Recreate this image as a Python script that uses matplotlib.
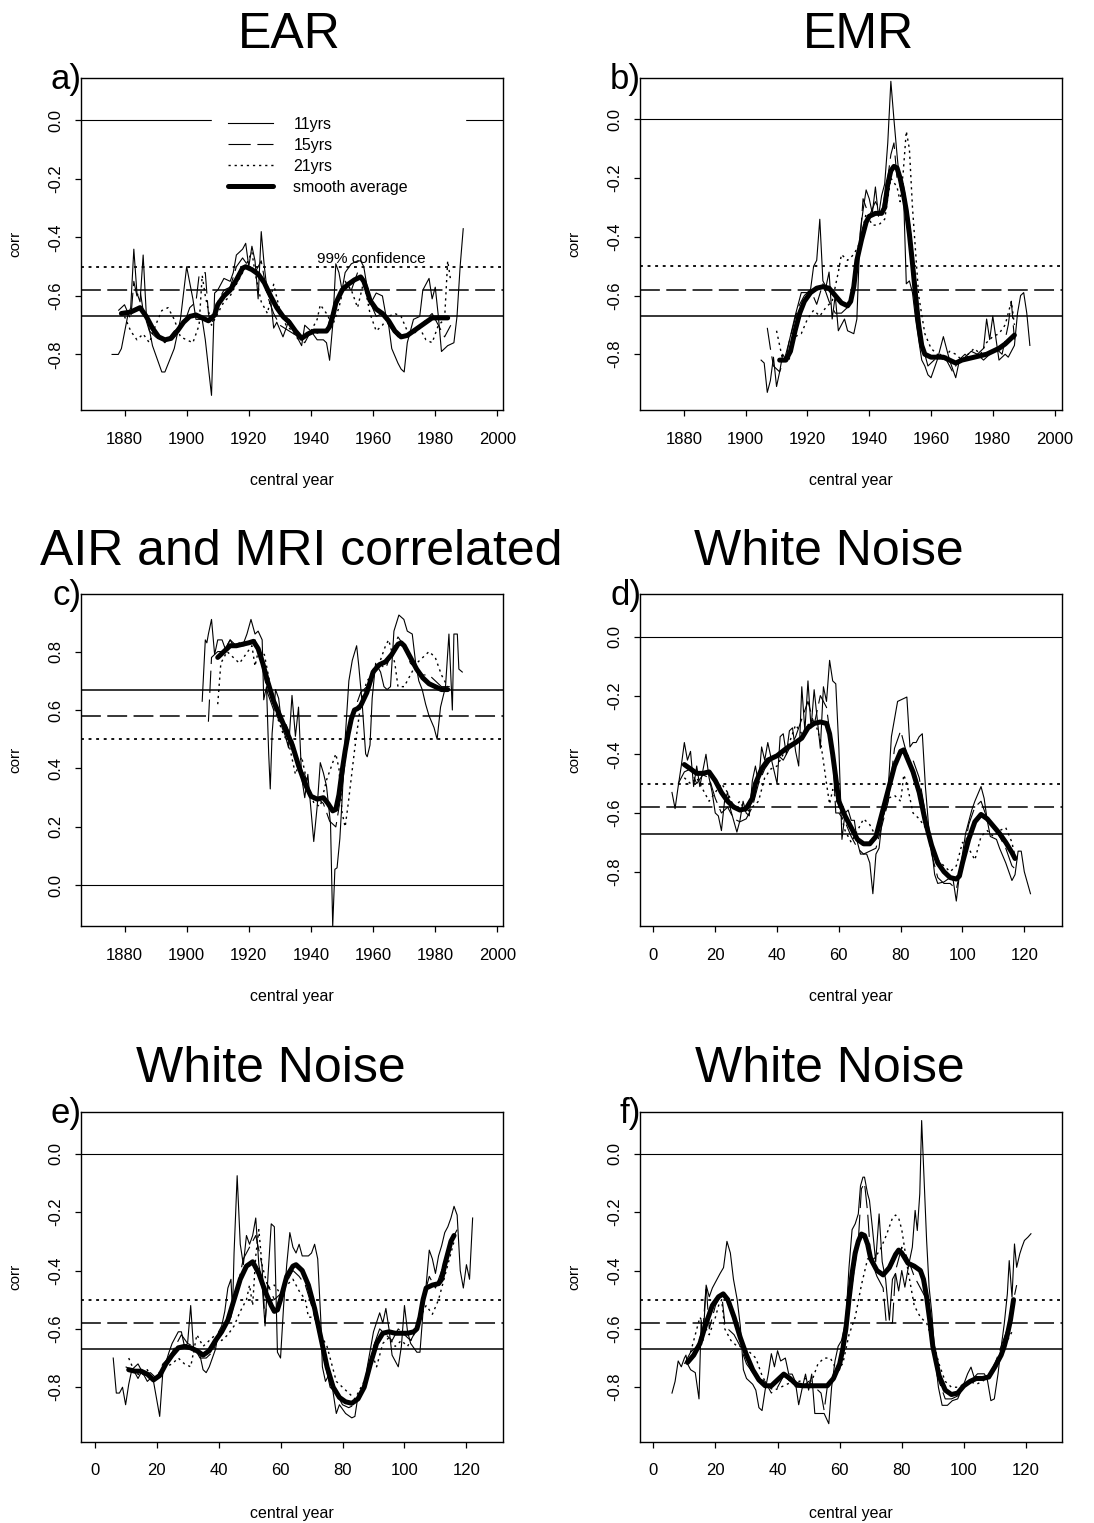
import matplotlib
matplotlib.use('Agg')
import matplotlib.pyplot as plt
from matplotlib.lines import Line2D

plt.rcParams['font.family'] = ['Liberation Sans', 'DejaVu Sans']

# ---------------- data ----------------
# panel a) EAR
a_11_yr = [1876, 1878, 1879, 1881, 1882, 1883, 1884, 1885, 1886, 1887, 1889, 1890, 1892, 1893, 1896, 1898,
           1900, 1902, 1903, 1905, 1906, 1908, 1909, 1910, 1912, 1914, 1915, 1916, 1917, 1918, 1919, 1920,
           1921, 1922, 1923, 1924, 1925, 1926, 1927, 1928, 1929, 1931, 1933, 1934, 1936, 1937, 1938, 1940,
           1942, 1944, 1945, 1946, 1947, 1948, 1949, 1950, 1951, 1953, 1955, 1956, 1957, 1959, 1961, 1963,
           1964, 1965, 1966, 1968, 1969, 1970, 1971, 1973, 1975, 1976, 1978, 1979, 1980, 1981, 1982, 1984,
           1986, 1987, 1988, 1989]
a_11_r = [-0.80, -0.80, -0.78, -0.67, -0.64, -0.44, -0.59, -0.62, -0.46, -0.66, -0.77, -0.80, -0.86, -0.86,
          -0.78, -0.68, -0.50, -0.61, -0.68, -0.68, -0.75, -0.94, -0.59, -0.58, -0.54, -0.55, -0.52, -0.46,
          -0.45, -0.44, -0.42, -0.50, -0.43, -0.48, -0.61, -0.38, -0.50, -0.59, -0.61, -0.71, -0.69, -0.74,
          -0.68, -0.70, -0.75, -0.77, -0.70, -0.72, -0.75, -0.75, -0.76, -0.82, -0.70, -0.49, -0.52, -0.58,
          -0.52, -0.49, -0.48, -0.48, -0.50, -0.63, -0.59, -0.60, -0.66, -0.70, -0.78, -0.83, -0.85, -0.86,
          -0.76, -0.68, -0.67, -0.58, -0.54, -0.61, -0.57, -0.67, -0.79, -0.77, -0.76, -0.67, -0.50, -0.37]
a_15_yr = [1878, 1880, 1882, 1883, 1884, 1885, 1886, 1888, 1890, 1893, 1896, 1899, 1901, 1903, 1904, 1906,
           1907, 1908, 1910, 1912, 1914, 1916, 1918, 1920, 1922, 1924, 1926, 1928, 1930, 1933, 1936, 1938,
           1940, 1943, 1945, 1947, 1949, 1951, 1953, 1955, 1957, 1959, 1961, 1963, 1965, 1968, 1971, 1974,
           1977, 1979, 1981, 1983, 1985]
a_15_r = [-0.65, -0.63, -0.68, -0.55, -0.60, -0.58, -0.65, -0.72, -0.74, -0.76, -0.72, -0.70, -0.64, -0.62,
          -0.53, -0.52, -0.66, -0.70, -0.62, -0.58, -0.57, -0.50, -0.47, -0.50, -0.52, -0.48, -0.60, -0.66,
          -0.70, -0.72, -0.74, -0.76, -0.72, -0.73, -0.72, -0.65, -0.60, -0.56, -0.58, -0.52, -0.56, -0.62,
          -0.67, -0.66, -0.70, -0.74, -0.73, -0.72, -0.68, -0.66, -0.70, -0.74, -0.70]
a_21_yr = [1880, 1882, 1884, 1886, 1888, 1890, 1892, 1894, 1896, 1898, 1900, 1902, 1904, 1905, 1906, 1908,
           1910, 1912, 1914, 1916, 1918, 1921, 1922, 1924, 1926, 1928, 1930, 1932, 1934, 1936, 1938, 1940,
           1942, 1943, 1945, 1947, 1949, 1951, 1953, 1955, 1957, 1959, 1961, 1963, 1965, 1967, 1969, 1971,
           1973, 1975, 1977, 1979, 1981, 1983, 1984, 1985]
a_21_r = [-0.67, -0.72, -0.75, -0.73, -0.76, -0.70, -0.65, -0.64, -0.68, -0.74, -0.75, -0.76, -0.70, -0.53,
          -0.60, -0.70, -0.66, -0.62, -0.60, -0.56, -0.52, -0.45, -0.52, -0.62, -0.66, -0.56, -0.65, -0.70,
          -0.72, -0.75, -0.74, -0.72, -0.68, -0.63, -0.66, -0.70, -0.64, -0.55, -0.58, -0.64, -0.55, -0.66,
          -0.72, -0.70, -0.67, -0.66, -0.67, -0.72, -0.73, -0.71, -0.75, -0.76, -0.70, -0.68, -0.48, -0.55]
a_sm_yr = [1879, 1882, 1885, 1887, 1889, 1891, 1893, 1895, 1897, 1899, 1901, 1903, 1905, 1907, 1909, 1910,
           1912, 1914, 1916, 1918, 1919, 1921, 1923, 1925, 1927, 1929, 1931, 1933, 1935, 1937, 1939, 1941,
           1943, 1945, 1946, 1947, 1948, 1950, 1952, 1954, 1956, 1957, 1958, 1959, 1961, 1963, 1965, 1967,
           1969, 1971, 1973, 1975, 1977, 1979, 1981, 1984]
a_sm_r = [-0.66, -0.655, -0.64, -0.67, -0.71, -0.74, -0.75, -0.745, -0.72, -0.69, -0.67, -0.665, -0.675,
          -0.685, -0.665, -0.63, -0.60, -0.58, -0.545, -0.505, -0.50, -0.51, -0.525, -0.555, -0.60, -0.64,
          -0.67, -0.69, -0.72, -0.745, -0.73, -0.72, -0.72, -0.72, -0.705, -0.67, -0.625, -0.58, -0.56,
          -0.545, -0.535, -0.55, -0.58, -0.615, -0.645, -0.66, -0.685, -0.72, -0.74, -0.735, -0.72, -0.705,
          -0.69, -0.675, -0.675, -0.675]

# panel b) EMR
b_11_yr = [1905, 1906, 1907, 1908, 1909, 1910, 1911, 1912, 1913, 1914, 1916, 1918, 1920, 1921, 1922, 1923,
           1924, 1925, 1926, 1927, 1928, 1929, 1930, 1932, 1933, 1935, 1936, 1937, 1938, 1939, 1940, 1941,
           1942, 1943, 1944, 1945, 1946, 1947, 1948, 1949, 1950, 1951, 1952, 1953, 1954, 1955, 1956, 1957,
           1958, 1959, 1960, 1962, 1963, 1964, 1966, 1968, 1969, 1971, 1973, 1975, 1977, 1978, 1979, 1980,
           1982, 1984, 1985, 1986, 1987, 1988, 1989, 1990, 1991, 1992]
b_11_r = [-0.82, -0.83, -0.93, -0.89, -0.81, -0.91, -0.86, -0.80, -0.82, -0.76, -0.67, -0.59, -0.59, -0.58,
          -0.50, -0.48, -0.34, -0.55, -0.57, -0.52, -0.68, -0.60, -0.72, -0.68, -0.72, -0.73, -0.68, -0.39,
          -0.31, -0.24, -0.27, -0.32, -0.23, -0.33, -0.26, -0.22, -0.08, 0.13, 0.00, -0.12, -0.23, -0.22,
          -0.56, -0.55, -0.59, -0.68, -0.75, -0.82, -0.84, -0.87, -0.88, -0.82, -0.78, -0.74, -0.82, -0.88,
          -0.83, -0.81, -0.79, -0.80, -0.78, -0.68, -0.75, -0.67, -0.82, -0.80, -0.81, -0.79, -0.77, -0.66,
          -0.60, -0.59, -0.66, -0.77]
b_15_yr = [1907, 1908, 1909, 1911, 1913, 1915, 1917, 1919, 1921, 1923, 1925, 1927, 1929, 1931, 1933, 1935,
           1937, 1938, 1940, 1942, 1944, 1946, 1947, 1948, 1949, 1951, 1953, 1955, 1957, 1959, 1961, 1963,
           1965, 1967, 1969, 1971, 1973, 1975, 1977, 1979, 1981, 1983, 1985, 1986, 1987]
b_15_r = [-0.71, -0.78, -0.84, -0.86, -0.80, -0.72, -0.64, -0.60, -0.58, -0.63, -0.56, -0.62, -0.66, -0.66,
          -0.64, -0.56, -0.42, -0.27, -0.33, -0.28, -0.32, -0.20, -0.12, -0.08, -0.20, -0.22, -0.35, -0.55,
          -0.76, -0.84, -0.82, -0.80, -0.82, -0.86, -0.82, -0.80, -0.82, -0.80, -0.82, -0.80, -0.78, -0.80,
          -0.70, -0.62, -0.75]
b_21_yr = [1910, 1912, 1914, 1916, 1918, 1920, 1922, 1924, 1926, 1928, 1930, 1931, 1933, 1935, 1937, 1939,
           1941, 1943, 1945, 1947, 1949, 1950, 1951, 1952, 1953, 1954, 1956, 1958, 1960, 1962, 1964, 1966,
           1968, 1970, 1972, 1974, 1976, 1978, 1980, 1982, 1984, 1986, 1987]
b_21_r = [-0.72, -0.82, -0.82, -0.74, -0.73, -0.68, -0.65, -0.67, -0.64, -0.62, -0.52, -0.46, -0.48, -0.46,
          -0.42, -0.32, -0.36, -0.36, -0.34, -0.20, -0.23, -0.28, -0.18, -0.04, -0.10, -0.30, -0.60, -0.73,
          -0.78, -0.80, -0.82, -0.79, -0.80, -0.82, -0.80, -0.78, -0.80, -0.76, -0.74, -0.73, -0.70, -0.62,
          -0.70]
b_sm_yr = [1911, 1913, 1914.5, 1916, 1917.5, 1919, 1921, 1923, 1925, 1927, 1929, 1931, 1933, 1934, 1935,
           1936, 1937.5, 1939, 1940, 1942, 1944, 1945, 1946, 1947, 1948, 1949, 1950, 1951, 1952, 1953, 1954,
           1955, 1956, 1957, 1958, 1960, 1962, 1964, 1966, 1968, 1970, 1972, 1974, 1976, 1978, 1980, 1982,
           1984, 1986, 1987]
b_sm_r = [-0.82, -0.82, -0.79, -0.72, -0.66, -0.62, -0.59, -0.575, -0.57, -0.575, -0.60, -0.625, -0.635,
          -0.62, -0.57, -0.48, -0.41, -0.35, -0.33, -0.32, -0.32, -0.30, -0.22, -0.175, -0.16, -0.165, -0.20,
          -0.25, -0.31, -0.39, -0.49, -0.60, -0.70, -0.77, -0.80, -0.81, -0.81, -0.81, -0.82, -0.83, -0.82,
          -0.815, -0.81, -0.805, -0.80, -0.79, -0.78, -0.765, -0.745, -0.735]

# panel c) AIR and MRI correlated
c_11_yr = [1905, 1906, 1906.5, 1907, 1908, 1909, 1910, 1911.4, 1912.4, 1914, 1915, 1917, 1918, 1919.4, 1920.7,
           1922, 1923, 1924.3, 1924.8, 1925.7, 1926.4, 1926.9, 1927.5, 1928.6, 1929.6, 1930.7, 1931.8, 1932.8,
           1933.9, 1935, 1936, 1937, 1938, 1939, 1940.9, 1942, 1943, 1944, 1945, 1946.3, 1947, 1947.7, 1948.4,
           1949.3, 1950, 1951, 1952.2, 1953.3, 1954.7, 1955.4, 1956.5, 1957.6, 1958.1, 1959, 1959.7, 1960.8,
           1962.4, 1963.5, 1964.5, 1965.6, 1966.7, 1968.3, 1969.9, 1971, 1972.6, 1973.7, 1974.7, 1975.8,
           1976.9, 1978, 1979.6, 1980.6, 1981.7, 1983.3, 1984.4, 1985.5, 1986, 1987.1, 1987.6, 1988.7]
c_11_r = [0.63, 0.84, 0.83, 0.86, 0.91, 0.79, 0.84, 0.84, 0.81, 0.84, 0.82, 0.83, 0.82, 0.86, 0.91, 0.86,
          0.87, 0.84, 0.635, 0.68, 0.45, 0.33, 0.52, 0.67, 0.64, 0.54, 0.51, 0.47, 0.65, 0.51, 0.61, 0.37,
          0.30, 0.38, 0.15, 0.27, 0.42, 0.385, 0.34, 0.21, -0.14, 0.055, 0.06, 0.16, 0.29, 0.50, 0.70, 0.77,
          0.82, 0.75, 0.62, 0.45, 0.44, 0.48, 0.64, 0.76, 0.73, 0.68, 0.67, 0.68, 0.87, 0.925, 0.91, 0.87,
          0.86, 0.76, 0.70, 0.67, 0.62, 0.58, 0.54, 0.50, 0.61, 0.68, 0.86, 0.60, 0.86, 0.86, 0.74, 0.73]
c_15_yr = [1907, 1908, 1910, 1912, 1914, 1916, 1918, 1920, 1922, 1924, 1926, 1928, 1930, 1932, 1934, 1936,
           1938, 1940, 1942, 1944, 1946, 1948, 1950, 1952, 1954, 1956, 1958, 1960, 1962, 1964, 1966, 1968,
           1970, 1972, 1974, 1976, 1978, 1980, 1982, 1984, 1986]
c_15_r = [0.56, 0.78, 0.80, 0.80, 0.84, 0.82, 0.82, 0.82, 0.84, 0.77, 0.66, 0.60, 0.56, 0.55, 0.50, 0.40,
          0.38, 0.30, 0.30, 0.28, 0.22, 0.20, 0.33, 0.52, 0.60, 0.66, 0.68, 0.74, 0.76, 0.74, 0.80, 0.85,
          0.82, 0.76, 0.74, 0.72, 0.72, 0.70, 0.68, 0.68, 0.68]
c_21_yr = [1910, 1911, 1913, 1915, 1917, 1919, 1921, 1922, 1923, 1925, 1927, 1929, 1931, 1933, 1935, 1937,
           1939, 1941, 1943, 1945, 1947, 1948, 1949, 1950, 1951, 1952, 1954, 1956, 1958, 1960, 1962, 1964,
           1965, 1967, 1968, 1970, 1972, 1974, 1976, 1978, 1980, 1982, 1984]
c_21_r = [0.62, 0.76, 0.80, 0.78, 0.76, 0.79, 0.82, 0.75, 0.80, 0.79, 0.68, 0.58, 0.52, 0.48, 0.38, 0.44,
          0.34, 0.28, 0.27, 0.36, 0.42, 0.45, 0.40, 0.25, 0.20, 0.28, 0.46, 0.62, 0.70, 0.72, 0.76, 0.82,
          0.84, 0.76, 0.68, 0.68, 0.72, 0.76, 0.78, 0.80, 0.78, 0.72, 0.68]
c_sm_yr = [1910, 1912, 1914, 1916, 1918, 1920, 1921.5, 1923, 1924.5, 1926, 1928, 1930, 1932, 1934, 1936,
           1938, 1940, 1942, 1944, 1945.5, 1947, 1948, 1949, 1950, 1951, 1952, 1953, 1954, 1955, 1956, 1958,
           1960, 1962, 1964, 1966, 1968, 1969, 1970, 1972, 1974, 1976, 1978, 1980, 1982, 1984]
c_sm_r = [0.78, 0.80, 0.82, 0.82, 0.825, 0.83, 0.835, 0.81, 0.76, 0.70, 0.63, 0.58, 0.53, 0.48, 0.41, 0.35,
          0.305, 0.295, 0.30, 0.28, 0.255, 0.26, 0.31, 0.39, 0.46, 0.52, 0.57, 0.60, 0.605, 0.615, 0.66,
          0.73, 0.755, 0.765, 0.79, 0.825, 0.83, 0.82, 0.78, 0.74, 0.71, 0.69, 0.68, 0.67, 0.67]

# panel d) White Noise
d_11_yr = [6, 7, 8, 9, 10, 11, 12, 13, 14, 15, 17, 18, 19, 20, 21, 22, 23, 24, 25, 27, 28, 29, 30, 31, 32,
           33, 34, 35, 36, 37, 38, 40, 41, 42, 43, 44, 45, 46, 47, 48, 49, 50, 51, 52, 54, 55, 56, 57, 58,
           59, 60, 61, 62, 63, 64, 65, 66, 67, 69, 70, 71, 72, 73, 74, 75, 76, 77, 79, 80, 82, 83, 84, 85,
           86, 87, 88, 89, 90, 91, 92, 94, 96, 97, 98, 99, 101, 103, 104, 106, 107, 108, 109, 111, 112, 114,
           116, 117, 118, 119, 120, 122]
d_11_r = [-0.53, -0.585, -0.51, -0.44, -0.36, -0.42, -0.39, -0.51, -0.44, -0.51, -0.40, -0.48, -0.53, -0.60,
          -0.61, -0.66, -0.56, -0.53, -0.59, -0.665, -0.625, -0.56, -0.60, -0.61, -0.49, -0.44, -0.50, -0.375,
          -0.42, -0.36, -0.41, -0.50, -0.34, -0.33, -0.40, -0.32, -0.31, -0.39, -0.44, -0.17, -0.32, -0.15,
          -0.31, -0.18, -0.38, -0.17, -0.22, -0.08, -0.15, -0.16, -0.38, -0.69, -0.60, -0.59, -0.625, -0.625,
          -0.70, -0.74, -0.74, -0.77, -0.875, -0.74, -0.72, -0.625, -0.59, -0.51, -0.34, -0.22, -0.215, -0.205,
          -0.375, -0.36, -0.36, -0.34, -0.33, -0.51, -0.64, -0.72, -0.81, -0.84, -0.835, -0.82, -0.83, -0.90,
          -0.81, -0.67, -0.59, -0.56, -0.51, -0.55, -0.625, -0.68, -0.69, -0.72, -0.77, -0.83, -0.81, -0.73,
          -0.73, -0.80, -0.875]
d_15_yr = [8, 10, 12, 14, 16, 18, 20, 22, 24, 26, 28, 30, 32, 34, 36, 38, 40, 42, 44, 46, 48, 50, 52, 54,
           56, 58, 59, 60, 62, 64, 66, 68, 70, 72, 74, 76, 78, 80, 82, 84, 86, 88, 90, 92, 94, 96, 98, 100,
           102, 104, 106, 108, 110, 112, 114, 116, 118]
d_15_r = [-0.50, -0.46, -0.45, -0.50, -0.47, -0.48, -0.55, -0.60, -0.58, -0.62, -0.63, -0.62, -0.58, -0.50,
          -0.45, -0.42, -0.40, -0.42, -0.38, -0.34, -0.28, -0.22, -0.30, -0.20, -0.24, -0.40, -0.60, -0.60,
          -0.63, -0.68, -0.72, -0.74, -0.73, -0.72, -0.64, -0.56, -0.38, -0.32, -0.40, -0.42, -0.48, -0.60,
          -0.74, -0.82, -0.84, -0.84, -0.86, -0.76, -0.64, -0.58, -0.56, -0.62, -0.65, -0.68, -0.72, -0.78,
          -0.80]
d_21_yr = [10, 12, 14, 16, 18, 20, 22, 24, 26, 28, 30, 32, 34, 36, 38, 40, 42, 44, 46, 48, 50, 52, 54, 56,
           57, 58, 60, 62, 64, 66, 68, 70, 72, 74, 76, 78, 80, 81, 82, 84, 86, 88, 90, 92, 94, 96, 98, 100,
           102, 104, 106, 108, 110, 112, 114, 116, 117]
d_21_r = [-0.48, -0.50, -0.48, -0.52, -0.56, -0.53, -0.50, -0.53, -0.58, -0.56, -0.60, -0.58, -0.56, -0.48,
          -0.45, -0.44, -0.40, -0.36, -0.30, -0.33, -0.30, -0.28, -0.35, -0.50, -0.57, -0.52, -0.58, -0.66,
          -0.70, -0.66, -0.62, -0.64, -0.68, -0.62, -0.55, -0.54, -0.56, -0.47, -0.50, -0.60, -0.62, -0.65,
          -0.70, -0.76, -0.78, -0.80, -0.78, -0.70, -0.72, -0.76, -0.68, -0.66, -0.68, -0.66, -0.65, -0.70,
          -0.75]
d_sm_yr = [10, 12, 14, 16, 18, 20, 22, 24, 26, 28, 30, 32, 33, 35, 37, 40, 43, 46, 48, 50, 52, 54, 56, 57,
           58, 59, 60, 62, 64, 66, 68, 70, 72, 74, 76, 78, 80, 81, 82, 84, 86, 88, 90, 92, 94, 96, 98, 99,
           100, 102, 104, 106, 108, 110, 112, 114, 116, 117]
d_sm_r = [-0.435, -0.45, -0.465, -0.465, -0.46, -0.49, -0.53, -0.56, -0.58, -0.59, -0.585, -0.55, -0.50,
          -0.45, -0.42, -0.405, -0.38, -0.36, -0.345, -0.31, -0.295, -0.29, -0.295, -0.33, -0.40, -0.48,
          -0.56, -0.61, -0.65, -0.69, -0.705, -0.705, -0.68, -0.60, -0.52, -0.44, -0.39, -0.385, -0.41, -0.46,
          -0.53, -0.63, -0.71, -0.77, -0.80, -0.82, -0.825, -0.815, -0.77, -0.69, -0.63, -0.605, -0.62, -0.645,
          -0.67, -0.70, -0.735, -0.755]

# panel e) White Noise
e_11_yr = [6, 7, 8, 9, 10, 11, 12, 13, 14, 15, 16, 17, 18, 19, 21, 22, 23, 24, 25, 27, 28, 29, 30, 31, 32,
           33, 34, 35, 36, 37, 39, 40, 41, 42, 43, 44, 44.5, 45, 46, 47, 48, 49, 50, 51, 52, 53, 54, 55, 56,
           57, 58, 59, 60, 61, 62, 63, 64, 65, 66, 67, 69, 70, 71, 72, 73, 73.5, 74.5, 76, 78, 79, 81, 83,
           84, 85, 87, 88, 90, 92, 93, 94, 95, 96, 98, 99, 100, 101, 102, 104, 105, 106, 107, 108, 109, 110,
           111, 112, 113, 114, 115, 116, 117, 118, 119, 120, 121, 122]
e_11_r = [-0.70, -0.82, -0.82, -0.80, -0.86, -0.79, -0.74, -0.75, -0.77, -0.75, -0.76, -0.78, -0.77, -0.78,
          -0.90, -0.75, -0.715, -0.68, -0.65, -0.61, -0.61, -0.66, -0.65, -0.52, -0.68, -0.67, -0.69, -0.74,
          -0.75, -0.73, -0.67, -0.61, -0.59, -0.54, -0.46, -0.43, -0.54, -0.34, -0.075, -0.31, -0.38, -0.28,
          -0.31, -0.28, -0.22, -0.38, -0.44, -0.59, -0.41, -0.24, -0.25, -0.68, -0.70, -0.52, -0.38, -0.27,
          -0.32, -0.34, -0.31, -0.35, -0.35, -0.34, -0.31, -0.36, -0.57, -0.73, -0.78, -0.75, -0.89, -0.86,
          -0.89, -0.905, -0.90, -0.83, -0.81, -0.73, -0.61, -0.545, -0.58, -0.53, -0.60, -0.69, -0.73, -0.66,
          -0.52, -0.61, -0.65, -0.68, -0.68, -0.54, -0.45, -0.33, -0.36, -0.41, -0.35, -0.315, -0.27, -0.25,
          -0.22, -0.18, -0.21, -0.40, -0.46, -0.38, -0.43, -0.22]
e_15_yr = [10, 12, 14, 16, 18, 20, 22, 24, 26, 28, 30, 32, 34, 36, 38, 40, 42, 44, 46, 48, 50, 52, 54, 55,
           56, 58, 60, 62, 64, 66, 68, 70, 72, 74, 76, 78, 80, 82, 84, 86, 88, 90, 92, 94, 96, 98, 100, 102,
           104, 106, 108, 110, 112, 114, 116, 117]
e_15_r = [-0.73, -0.74, -0.72, -0.76, -0.75, -0.77, -0.72, -0.70, -0.66, -0.62, -0.65, -0.66, -0.70, -0.70,
          -0.68, -0.63, -0.60, -0.56, -0.46, -0.36, -0.32, -0.28, -0.38, -0.58, -0.45, -0.50, -0.48, -0.44,
          -0.40, -0.42, -0.45, -0.52, -0.60, -0.70, -0.80, -0.82, -0.86, -0.87, -0.86, -0.83, -0.76, -0.66,
          -0.60, -0.62, -0.64, -0.60, -0.62, -0.64, -0.60, -0.50, -0.42, -0.46, -0.40, -0.34, -0.28, -0.26]
e_21_yr = [11, 13, 15, 17, 19, 21, 23, 25, 27, 29, 31, 33, 35, 37, 39, 41, 43, 45, 47, 49, 50, 51, 52, 53,
           54, 56, 58, 60, 62, 64, 66, 68, 69, 71, 73, 75, 76, 78, 80, 82, 84, 86, 88, 90, 91, 93, 95, 97,
           99, 101, 103, 105, 107, 109, 111, 113, 115, 116]
e_21_r = [-0.70, -0.75, -0.76, -0.74, -0.78, -0.76, -0.73, -0.72, -0.70, -0.72, -0.73, -0.62, -0.66, -0.64,
          -0.62, -0.64, -0.62, -0.59, -0.54, -0.50, -0.45, -0.52, -0.35, -0.26, -0.38, -0.46, -0.45, -0.48,
          -0.45, -0.43, -0.47, -0.50, -0.56, -0.56, -0.62, -0.66, -0.70, -0.78, -0.80, -0.82, -0.84, -0.80,
          -0.76, -0.70, -0.73, -0.65, -0.63, -0.66, -0.64, -0.66, -0.62, -0.56, -0.52, -0.55, -0.50, -0.42,
          -0.34, -0.30]
e_sm_yr = [11, 13, 15, 17, 19, 21, 23, 25, 27, 29, 31, 33, 35, 37, 39, 41, 43, 45, 47, 49, 51, 53, 55, 57,
           58, 59, 60, 62, 64, 65, 67, 69, 71, 73, 75, 77, 79, 81, 83, 85, 87, 89, 91, 93, 95, 97, 99, 101,
           103, 104, 105, 106, 107, 109, 111, 112, 113, 114, 115, 116]
e_sm_r = [-0.74, -0.745, -0.745, -0.755, -0.775, -0.76, -0.72, -0.69, -0.665, -0.66, -0.665, -0.675, -0.69,
          -0.675, -0.64, -0.61, -0.57, -0.50, -0.43, -0.385, -0.37, -0.41, -0.47, -0.52, -0.54, -0.535, -0.50,
          -0.42, -0.385, -0.38, -0.40, -0.45, -0.53, -0.63, -0.73, -0.80, -0.835, -0.85, -0.855, -0.84, -0.80,
          -0.72, -0.65, -0.615, -0.61, -0.615, -0.615, -0.615, -0.61, -0.60, -0.56, -0.50, -0.46, -0.45,
          -0.445, -0.43, -0.38, -0.34, -0.30, -0.28]

# panel f) White Noise
f_11_yr = [6, 7, 8, 9, 10, 10.5, 11, 12, 13.5, 14.7, 15.4, 16, 17, 18, 19, 20.5, 21.5, 22.6, 23.7, 24.8,
           25.8, 27, 28, 29, 30, 32, 33, 34, 35, 36, 37, 38, 39, 40, 41, 42.5, 43.6, 44.7, 45.7, 46.8, 48,
           49, 50, 51, 52, 54, 55, 56.5, 57.4, 58.5, 59.5, 60.6, 62, 63, 64, 65, 66, 66.7, 67.5, 68, 69,
           69.6, 70.5, 71.6, 72.7, 73.7, 74.8, 76, 77, 78, 79, 80, 81, 82.3, 83.4, 84.3, 85, 85.8, 86.4,
           87.2, 88, 88.8, 89.7, 90.7, 91.8, 93, 94.7, 96.3, 98, 99.6, 101.2, 102.3, 103.3, 104.4, 105.5,
           106.6, 107.6, 108.7, 109.8, 111, 112, 113, 114, 114.6, 115.5, 116.3, 117, 118, 118.7, 119.5,
           120.6, 121.6]
f_11_r = [-0.82, -0.78, -0.71, -0.73, -0.70, -0.69, -0.72, -0.74, -0.75, -0.84, -0.57, -0.64, -0.45, -0.49,
          -0.46, -0.43, -0.41, -0.39, -0.30, -0.34, -0.43, -0.50, -0.59, -0.74, -0.77, -0.79, -0.81, -0.87,
          -0.88, -0.81, -0.755, -0.685, -0.73, -0.675, -0.71, -0.70, -0.755, -0.755, -0.78, -0.86, -0.80,
          -0.755, -0.81, -0.755, -0.89, -0.89, -0.89, -0.925, -0.80, -0.71, -0.66, -0.64, -0.57, -0.39, -0.26,
          -0.24, -0.206, -0.11, -0.08, -0.08, -0.137, -0.16, -0.25, -0.37, -0.206, -0.37, -0.43, -0.57, -0.43,
          -0.41, -0.47, -0.40, -0.457, -0.377, -0.32, -0.194, -0.263, -0.137, 0.114, -0.091, -0.297, -0.457,
          -0.549, -0.697, -0.80, -0.862, -0.862, -0.846, -0.84, -0.80, -0.754, -0.731, -0.766, -0.754, -0.754,
          -0.754, -0.777, -0.846, -0.84, -0.754, -0.663, -0.583, -0.48, -0.366, -0.491, -0.309, -0.389, -0.343,
          -0.32, -0.297, -0.286, -0.274]
f_15_yr = [10, 12, 14, 16, 17, 18, 20, 22, 23, 24, 26, 28, 30, 32, 34, 36, 38, 40, 42, 44, 46, 48, 50, 52,
           54, 55, 56, 58, 60, 62, 64, 66, 67, 68, 69, 70, 72, 74, 75, 77, 78, 80, 82, 84, 86, 88, 90, 92,
           94, 96, 98, 100, 102, 104, 106, 108, 110, 112, 114, 116, 117]
f_15_r = [-0.72, -0.68, -0.66, -0.60, -0.45, -0.60, -0.52, -0.48, -0.58, -0.60, -0.62, -0.66, -0.72, -0.75,
          -0.77, -0.78, -0.82, -0.80, -0.76, -0.78, -0.80, -0.80, -0.78, -0.80, -0.82, -0.88, -0.80, -0.76,
          -0.74, -0.60, -0.45, -0.30, -0.12, -0.10, -0.20, -0.36, -0.42, -0.46, -0.58, -0.58, -0.40, -0.32,
          -0.36, -0.42, -0.46, -0.50, -0.66, -0.78, -0.84, -0.84, -0.83, -0.80, -0.78, -0.77, -0.76, -0.76,
          -0.72, -0.66, -0.60, -0.50, -0.45]
f_21_yr = [12, 14, 15, 16, 18, 20, 21, 22, 23, 25, 27, 29, 31, 33, 35, 37, 39, 41, 43, 45, 47, 49, 51, 53,
           55, 57, 59, 61, 63, 65, 67, 69, 71, 73, 75, 77, 78, 79, 80, 82, 84, 86, 88, 90, 92, 94, 96, 98,
           100, 102, 104, 106, 108, 110, 112, 114, 116]
f_21_r = [-0.68, -0.60, -0.56, -0.58, -0.62, -0.56, -0.52, -0.50, -0.60, -0.64, -0.66, -0.66, -0.68, -0.70,
          -0.76, -0.80, -0.81, -0.80, -0.79, -0.78, -0.78, -0.77, -0.78, -0.72, -0.70, -0.70, -0.74, -0.72,
          -0.62, -0.56, -0.45, -0.36, -0.36, -0.33, -0.28, -0.22, -0.21, -0.22, -0.26, -0.40, -0.52, -0.56,
          -0.58, -0.64, -0.72, -0.78, -0.80, -0.80, -0.79, -0.78, -0.79, -0.78, -0.76, -0.72, -0.68, -0.64,
          -0.60]
f_sm_yr = [11, 13, 15, 17, 19, 21, 22.5, 24, 26, 28, 30, 32, 34, 36, 38, 40, 42, 44, 46, 48, 50, 52, 54,
           56, 58, 60, 61, 62, 63, 64, 65, 66, 67, 68, 69, 70, 72, 74, 76, 78, 79, 80, 82, 84, 86, 87, 88,
           89, 90, 92, 94, 96, 98, 100, 102, 104, 106, 108, 110, 112, 113, 114, 115, 116]
f_sm_r = [-0.715, -0.69, -0.65, -0.58, -0.52, -0.49, -0.48, -0.50, -0.56, -0.63, -0.69, -0.74, -0.775,
          -0.795, -0.795, -0.775, -0.755, -0.77, -0.79, -0.795, -0.795, -0.795, -0.795, -0.795, -0.77, -0.72,
          -0.67, -0.60, -0.50, -0.41, -0.34, -0.30, -0.275, -0.28, -0.31, -0.36, -0.40, -0.415, -0.39, -0.345,
          -0.33, -0.34, -0.375, -0.385, -0.40, -0.43, -0.49, -0.57, -0.66, -0.76, -0.81, -0.825, -0.82,
          -0.795, -0.78, -0.77, -0.77, -0.765, -0.73, -0.69, -0.66, -0.62, -0.57, -0.50]

# 99% confidence levels for the three window lengths
conf_11, conf_15, conf_21 = 0.67, 0.58, 0.50

# ---------------- figure ----------------
fig = plt.figure(figsize=(10.94, 15.23), dpi=100)

W, H = 1094.0, 1523.0
col_left = [81, 640]
row_box = [(77.5, 410), (594, 926), (1111.5, 1441.5)]  # top, bottom in pixels

DASH = (13, 4.2)
DOT = (1.6, 2.6)


def style(kind):
    if kind == '11':
        return dict(color='k', lw=0.8)
    if kind == '15':
        return dict(color='k', lw=0.8, dashes=(20, 6))
    if kind == '21':
        return dict(color='k', lw=1.0, dashes=(1.6, 2.8))
    return dict(color='k', lw=3.6, solid_capstyle='round', solid_joinstyle='round')


def make_panel(col, row, xlim, ylim, xticks, yticks, sign, series, title, tx, label, xlab_off):
    top, bot = row_box[row]
    left = col_left[col]
    ax = fig.add_axes([left / W, 1 - bot / H, 422 / W, (bot - top) / H])
    ax.axhline(0.0, color='k', lw=0.8)
    ax.axhline(sign * conf_11, color='k', lw=1.1)
    ax.axhline(sign * conf_15, color='k', lw=1.1, dashes=DASH)
    ax.axhline(sign * conf_21, color='k', lw=1.3, dashes=DOT)
    for xs, ys, kind in series:
        ax.plot(xs, ys, **style(kind))
    ax.set_xlim(*xlim)
    ax.set_ylim(*ylim)
    ax.set_xticks(xticks)
    ax.set_xticklabels([str(t) for t in xticks])
    ax.set_yticks(yticks)
    ax.set_yticklabels(['%.1f' % t for t in yticks], rotation=90, va='center')
    ax.tick_params(direction='out', length=4.5, width=0.9, labelsize=12)
    ax.tick_params(axis='x', pad=11)
    ax.tick_params(axis='y', pad=8)
    for s in ax.spines.values():
        s.set_linewidth(1.0)
    ax.set_ylabel('corr', fontsize=11)
    ax.yaxis.set_label_coords(-0.14, 0.5)
    ax.set_xlabel('central year', fontsize=11.5)
    ax.xaxis.set_label_coords(0.5, xlab_off)
    fig.text(tx / W, 1 - (top - 29) / H, title, fontsize=36, ha='center', va='baseline')
    fig.text((left + 1) / W, 1 - (top + 11) / H, label, fontsize=25, ha='right', va='baseline')
    return ax


yr_ticks = [1880, 1900, 1920, 1940, 1960, 1980, 2000]
wn_ticks = [0, 20, 40, 60, 80, 100, 120]
neg_ticks = [-0.8, -0.6, -0.4, -0.2, 0.0]
pos_ticks = [0.0, 0.2, 0.4, 0.6, 0.8]

ax_a = make_panel(0, 0, (1866, 2001.8), (-0.99, 0.147), yr_ticks, neg_ticks, -1,
                  [(a_11_yr, a_11_r, '11'), (a_15_yr, a_15_r, '15'), (a_21_yr, a_21_r, '21'),
                   (a_sm_yr, a_sm_r, 'sm')], 'EAR', 289, 'a)', -0.19)
make_panel(1, 0, (1865.8, 2002.4), (-0.99, 0.143), yr_ticks, neg_ticks, -1,
           [(b_11_yr, b_11_r, '11'), (b_15_yr, b_15_r, '15'), (b_21_yr, b_21_r, '21'),
            (b_sm_yr, b_sm_r, 'sm')], 'EMR', 858, 'b)', -0.19)
make_panel(0, 1, (1866, 2001.8), (-0.139, 0.997), yr_ticks, pos_ticks, 1,
           [(c_11_yr, c_11_r, '11'), (c_15_yr, c_15_r, '15'), (c_21_yr, c_21_r, '21'),
            (c_sm_yr, c_sm_r, 'sm')], 'AIR and MRI correlated', 301, 'c)', -0.19)
make_panel(1, 1, (-4.35, 132.2), (-0.985, 0.146), wn_ticks, neg_ticks, -1,
           [(d_11_yr, d_11_r, '11'), (d_15_yr, d_15_r, '15'), (d_21_yr, d_21_r, '21'),
            (d_sm_yr, d_sm_r, 'sm')], 'White Noise', 829, 'd)', -0.19)
make_panel(0, 2, (-4.4, 131.8), (-0.986, 0.145), wn_ticks, neg_ticks, -1,
           [(e_11_yr, e_11_r, '11'), (e_15_yr, e_15_r, '15'), (e_21_yr, e_21_r, '21'),
            (e_sm_yr, e_sm_r, 'sm')], 'White Noise', 271, 'e)', -0.195)
make_panel(1, 2, (-4.3, 131.6), (-0.986, 0.145), wn_ticks, neg_ticks, -1,
           [(f_11_yr, f_11_r, '11'), (f_15_yr, f_15_r, '15'), (f_21_yr, f_21_r, '21'),
            (f_sm_yr, f_sm_r, 'sm')], 'White Noise', 830, 'f)', -0.195)

# legend and confidence note in panel a
handles = [Line2D([], [], **style('11')), Line2D([], [], **style('15')),
           Line2D([], [], **style('21')), Line2D([], [], **style('sm'))]
leg = ax_a.legend(handles, ['11yrs', '15yrs', '21yrs', 'smooth average'], loc='upper left',
                  bbox_to_anchor=(0.31, 0.6, 0.6, 0.33), mode='expand', borderaxespad=0,
                  fontsize=11.5, handlelength=2.8, handletextpad=1.3, labelspacing=0.38,
                  borderpad=1.0, fancybox=False, framealpha=1, facecolor='white', edgecolor='white')
ax_a.text(1959.5, -0.472, '99% confidence', fontsize=11, ha='center', va='center')

fig.savefig('out.png', dpi=100)
